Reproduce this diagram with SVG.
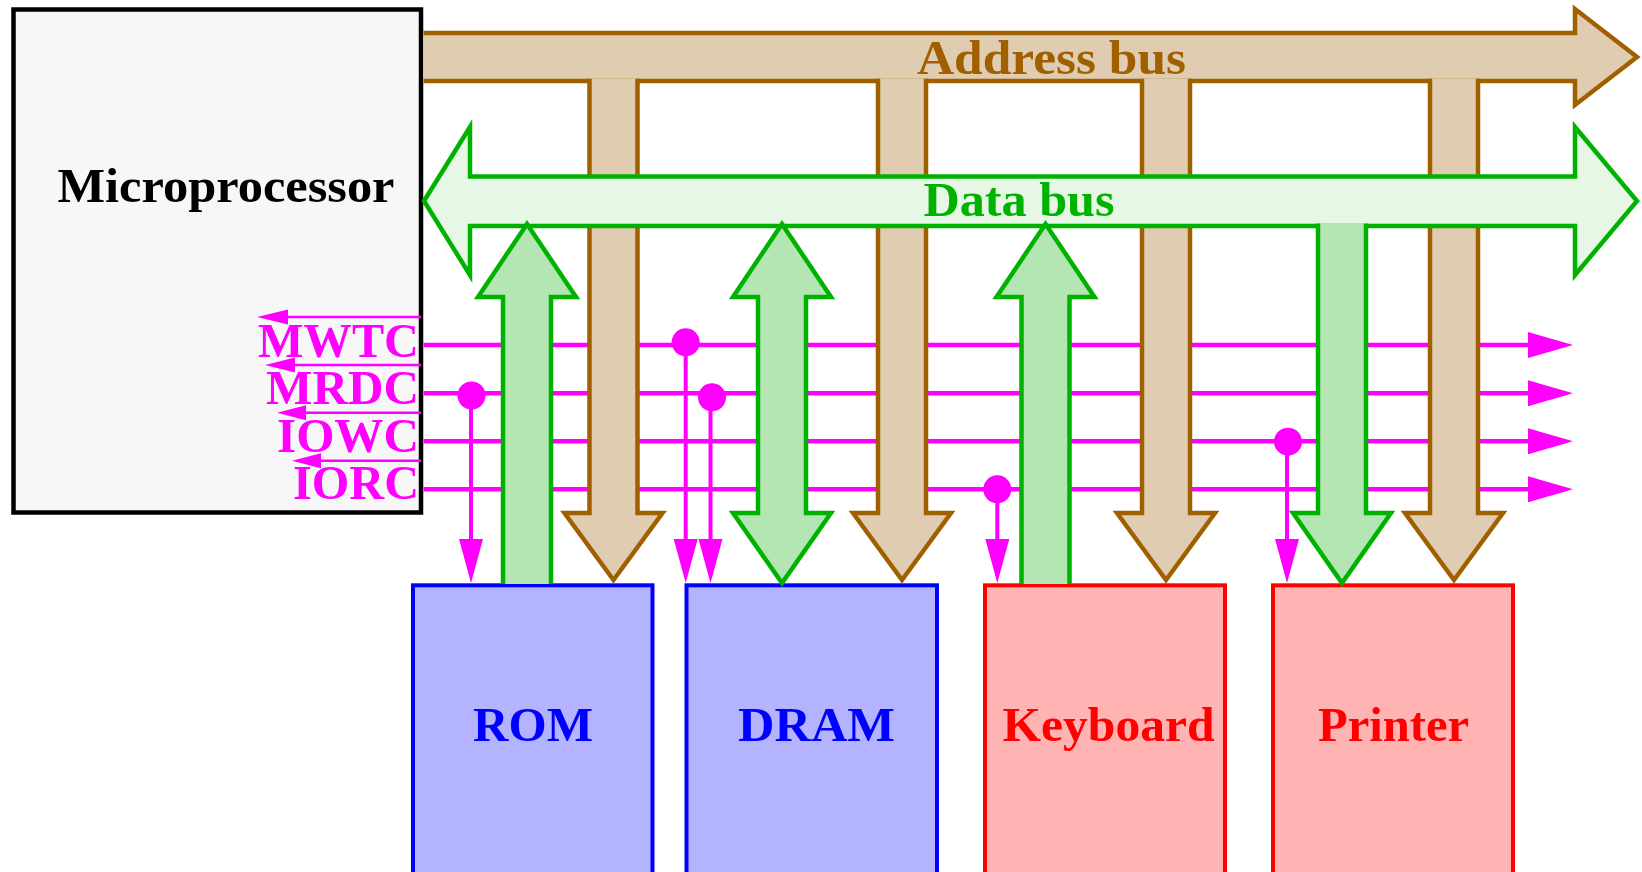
<svg xmlns="http://www.w3.org/2000/svg" width="1642" height="872" viewBox="0 0 1642 872">
  <defs>
    <style>
      .lbl { font-family: "Liberation Serif", "DejaVu Serif", serif; font-weight: bold; font-size: 49px; text-anchor: middle; }
      .sig { font-family: "Liberation Serif", "DejaVu Serif", serif; font-weight: bold; font-size: 49px; text-anchor: end; fill: #ff00ff; }
      .cpu { fill: #f7f7f7; stroke: #000; stroke-width: 4.5; }
      .mem { fill: #b3b3ff; stroke: #0000ff; stroke-width: 4; }
      .io { fill: #ffb3b3; stroke: #ff0000; stroke-width: 4; }
      .abus { fill: #e0cdb1; stroke: #a06000; stroke-width: 4.5; stroke-linejoin: miter; }
      .dbus { fill: #e6f7e6; stroke: #00b200; stroke-width: 4.5; stroke-linejoin: miter; }
      .dlink { fill: #b3e6b3; stroke: #00b200; stroke-width: 4.5; stroke-linejoin: miter; }
      .ctl { stroke: #ff00ff; stroke-width: 4.5; fill: none; }
      .tap { stroke: #ff00ff; stroke-width: 4; fill: none; }
      .bar { stroke: #ff00ff; stroke-width: 2.5; fill: none; }
      .mg { fill: #ff00ff; }
    </style>
  </defs>

  <!-- CPU -->
  <g id="microprocessor">
    <rect class="cpu" x="13.5" y="9.5" width="407.5" height="503"/>
    <text class="lbl" x="226" y="202" fill="#000" textLength="337" lengthAdjust="spacingAndGlyphs">Microprocessor</text>
  </g>

  <!-- control signal names with overhead left arrows -->
  <g id="control-labels">
    <text class="sig" x="419" y="357" textLength="161" lengthAdjust="spacingAndGlyphs">MWTC</text>
    <text class="sig" x="419" y="404" textLength="153" lengthAdjust="spacingAndGlyphs">MRDC</text>
    <text class="sig" x="419" y="452" textLength="142" lengthAdjust="spacingAndGlyphs">IOWC</text>
    <text class="sig" x="419" y="499" textLength="126" lengthAdjust="spacingAndGlyphs">IORC</text>
    <path class="bar" d="M285,317 H421 M293,365 H421 M304,412.7 H421 M319,460.7 H421"/>
    <path class="mg" d="M257,317 L288,309.5 L288,324.5 Z M265,365 L295,357.5 L295,372.5 Z M277,412.7 L306,405.2 L306,420.2 Z M292,460.7 L321,453.2 L321,468.2 Z"/>
  </g>

  <!-- memory and I/O devices -->
  <g id="rom">
    <rect class="mem" x="413" y="585.3" width="239.5" height="300"/>
    <text class="lbl" x="533" y="741" fill="#0000ff" textLength="120" lengthAdjust="spacingAndGlyphs">ROM</text>
  </g>
  <g id="dram">
    <rect class="mem" x="686.5" y="585.3" width="250.5" height="300"/>
    <text class="lbl" x="816.5" y="741" fill="#0000ff" textLength="157" lengthAdjust="spacingAndGlyphs">DRAM</text>
  </g>
  <g id="keyboard">
    <rect class="io" x="985" y="585.3" width="240" height="300"/>
    <text class="lbl" x="1108.5" y="741" fill="#ff0000" textLength="212" lengthAdjust="spacingAndGlyphs">Keyboard</text>
  </g>
  <g id="printer">
    <rect class="io" x="1273" y="585.3" width="240" height="300"/>
    <text class="lbl" x="1393.5" y="741" fill="#ff0000" textLength="151" lengthAdjust="spacingAndGlyphs">Printer</text>
  </g>

  <g id="connectors">
    <!-- control lines -->
    <g id="control-bus">
      <path class="ctl" d="M423.5,345 H1530 M423.5,393.3 H1530 M423.5,441.3 H1530 M423.5,489.3 H1530"/>
      <path class="mg" d="M1528,332 L1573,345 L1528,358 Z M1528,380.3 L1573,393.3 L1528,406.3 Z M1528,428.3 L1573,441.3 L1528,454.3 Z M1528,476.3 L1573,489.3 L1528,502.3 Z"/>
      <!-- taps down to devices -->
      <path class="tap" d="M471,395 V541 M685.7,342.3 V541 M710.5,397 V541 M997.3,489.3 V541 M1287,441.7 V541"/>
      <circle class="mg" cx="471.5" cy="395.5" r="14"/>
      <circle class="mg" cx="685.7" cy="342.3" r="14"/>
      <circle class="mg" cx="712" cy="397.3" r="14"/>
      <circle class="mg" cx="997.3" cy="489.3" r="14"/>
      <circle class="mg" cx="1288" cy="441.7" r="14"/>
      <path class="mg" d="M459,539 H483 L471,583 Z M673.7,539 H697.7 L685.7,583 Z M698.5,539 H722.5 L710.5,583 Z M985.3,539 H1009.3 L997.3,583 Z M1275,539 H1299 L1287,583 Z"/>
    </g>

    <!-- address bus and its drops -->
    <g id="address-bus">
      <path class="abus" d="M423.5,33 H1575 V9 L1637,57 L1575,105 V81 H423.5"/>
      <path class="abus" d="M589.5,78.7 V513 H564.5 L613.5,580 L662.5,513 H637.5 V78.7"/>
      <path class="abus" d="M878,78.7 V513 H853 L902,580 L951,513 H926 V78.7"/>
      <path class="abus" d="M1142,78.7 V513 H1117 L1166,580 L1215,513 H1190 V78.7"/>
      <path class="abus" d="M1430,78.7 V513 H1405 L1454,580 L1503,513 H1478 V78.7"/>
      <text class="lbl" x="1051.5" y="74" fill="#a06000" textLength="269" lengthAdjust="spacingAndGlyphs">Address bus</text>
    </g>

    <!-- data bus and its links -->
    <g id="data-bus">
      <path class="dbus" d="M470,176.5 H1575 V127 L1637,201 L1575,275 V226 H470 V275 L424,201 L470,127 Z"/>
      <text class="lbl" x="1019" y="216" fill="#00b200" textLength="191" lengthAdjust="spacingAndGlyphs">Data bus</text>
      <path class="dlink" d="M503,584 V297 H478 L527,224 L576,297 H551 V584"/>
      <path class="dlink" d="M758,297 H733 L782,224 L831,297 H806 V513 H831 L782,583 L733,513 H758 Z"/>
      <path class="dlink" d="M1021.5,584 V297 H996.5 L1045.5,224 L1094.5,297 H1069.5 V584"/>
      <path class="dlink" d="M1318,223.5 V513 H1293 L1342,583 L1391,513 H1366 V223.5"/>
    </g>
  </g>
</svg>
